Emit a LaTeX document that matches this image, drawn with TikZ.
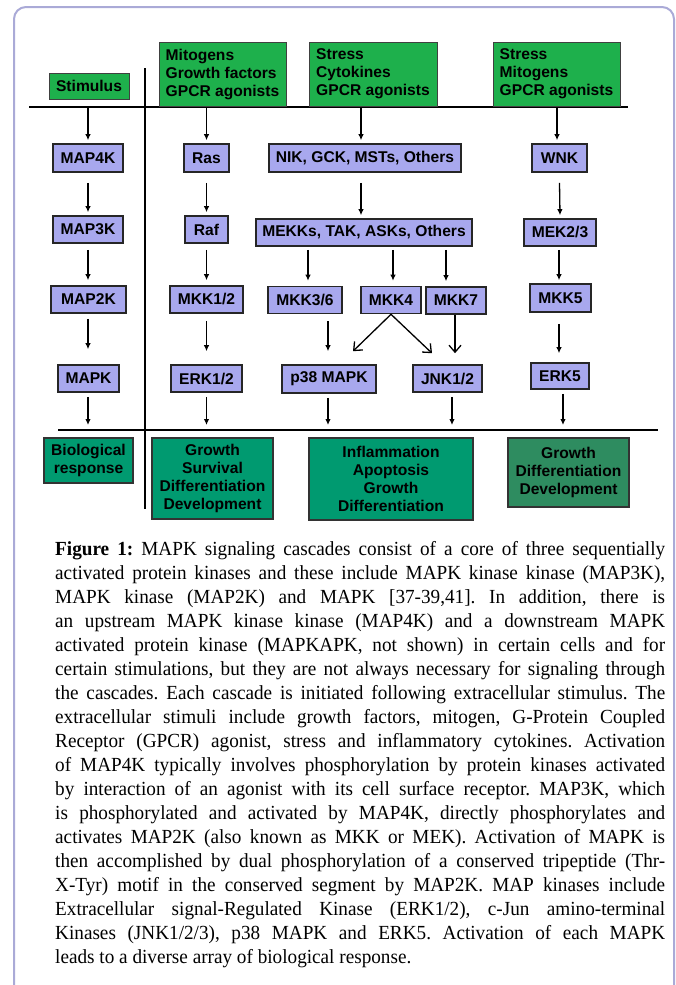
\documentclass[tikz,border=0pt]{standalone}
\usepackage{fontspec}
\setmainfont{Liberation Serif}
\newfontfamily\diagfont{Liberation Sans}
\newfontfamily\capfont{Liberation Serif}[FakeStretch=0.96]
\usetikzlibrary{arrows.meta}
\definecolor{frameC}{RGB}{170,170,215}
\definecolor{kinC}{RGB}{168,168,238}
\definecolor{stimC}{RGB}{30,176,76}
\definecolor{respC}{RGB}{0,154,112}
\definecolor{respD}{RGB}{46,140,96}
\begin{document}
\begin{tikzpicture}[x=1pt,y=-1pt,
  dfont/.style={font=\diagfont\bfseries\fontsize{15.6pt}{18pt}\selectfont},
  sz/.style 2 args={minimum width=#1pt,minimum height=#2pt},
  kin/.style={dfont,draw=black!85,line width=1.6pt,fill=kinC,inner sep=0pt},
  stimbox/.style={dfont,draw=black!75,line width=1pt,fill=stimC,inner sep=0pt,align=left},
  resp/.style={dfont,draw=black!80,line width=1.3pt,fill=respC,inner sep=0pt,align=center},
  respdark/.style={resp,fill=respD},
  arr/.style={-{Latex[length=6pt,width=5.5pt]},line width=1.3pt},
  arro/.style={-{Straight Barb[length=7pt,width=12pt]},line width=1.3pt},
  sep/.style={line width=1.5pt}]
\useasboundingbox (0,0) rectangle (676,985);
% frame
\draw[frameC,line width=2pt,rounded corners=12pt] (14,985) -- (14,7) -- (674,7) -- (674,985);
% separator lines
\coordinate (tl1) at (29,107);  \coordinate (tl2) at (628,107);
\coordinate (vl1) at (145,68);  \coordinate (vl2) at (145,509);
\coordinate (bl1) at (58,430);  \coordinate (bl2) at (658,430);
\draw[sep] (tl1) -- (tl2);
\draw[sep] (vl1) -- (vl2);
\draw[sep] (bl1) -- (bl2);
% stimulus boxes
\node[stimbox,sz={80}{26},align=center] (stim) at (89,86) {Stimulus};
\node[stimbox,sz={127}{64}] (mito) at (222.5,74) {Mitogens\\Growth factors\\GPCR agonists};
\node[stimbox,sz={128}{64}] (str1) at (373,74) {Stress\\Cytokines\\GPCR agonists};
\node[stimbox,sz={127}{64}] (str2) at (556.5,74) {Stress\\Mitogens\\GPCR agonists};
% kinase boxes
\node[kin,sz={70}{28}] (map4k) at (88,158) {MAP4K};
\node[kin,sz={70}{27}] (map3k) at (88,229.5) {MAP3K};
\node[kin,sz={75}{27}] (map2k) at (88.5,299.5) {MAP2K};
\node[kin,sz={61}{27}] (mapk) at (88.5,378.5) {MAPK};
\node[kin,sz={45}{28}] (ras) at (206.5,158) {Ras};
\node[kin,sz={43}{27}] (raf) at (206.5,229.5) {Raf};
\node[kin,sz={73}{27}] (mkk12) at (206.5,299.5) {MKK1/2};
\node[kin,sz={71}{27}] (erk12) at (206.5,378.5) {ERK1/2};
\node[kin,sz={192}{28}] (nik) at (365,158) {NIK, GCK, MSTs, Others};
\node[kin,sz={216}{27}] (mekks) at (364,232.5) {MEKKs, TAK, ASKs, Others};
\node[kin,sz={74}{27}] (mkk36) at (305,300) {MKK3/6};
\node[kin,sz={60}{27}] (mkk4) at (391,300) {MKK4};
\node[kin,sz={60}{27}] (mkk7) at (456,300.5) {MKK7};
\node[kin,sz={94}{28}] (p38) at (329,379) {p38 MAPK};
\node[kin,sz={69}{27}] (jnk) at (447.5,378.5) {JNK1/2};
\node[kin,sz={55}{28}] (wnk) at (559.5,158) {WNK};
\node[kin,sz={72}{27}] (mek23) at (560,232.5) {MEK2/3};
\node[kin,sz={61}{28}] (mkk5) at (560.5,298) {MKK5};
\node[kin,sz={58}{26}] (erk5) at (560,376) {ERK5};
% response boxes
\node[resp,sz={89}{45}] (bio) at (88.5,460.5) {Biological\\response};
\node[resp,sz={121}{81}] (gr1) at (212.5,478.5) {Growth\\Survival\\Differentiation\\Development};
\node[resp,sz={164}{82}] (infl) at (391,479) {Inflammation\\Apoptosis\\Growth\\Differentiation};
\node[respdark,sz={121}{69}] (gr2) at (568.5,472.5) {Growth\\Differentiation\\Development};
% arrows from stimulus line
\coordinate (t1) at (88,107);
\coordinate (t2) at (206.5,107);
\coordinate (t3) at (361,107);
\coordinate (t4) at (557,107);
\draw[arr] (t1) -- ([yshift=3pt]map4k.north);
\draw[arr] (t2) -- ([yshift=3pt]ras.north);
\draw[arr] (t3) -- ([xshift=-4pt,yshift=3pt]nik.north);
\draw[arr] (t4) -- ([xshift=-2.5pt,yshift=3pt]wnk.north);
% generic cascade
\draw[arr] ([yshift=-10pt]map4k.south) -- ([yshift=3pt]map3k.north);
\draw[arr] ([yshift=-6pt]map3k.south) -- ([xshift=-0.5pt,yshift=5pt]map2k.north);
\draw[arr] ([xshift=-0.5pt,yshift=-5pt]map2k.south) -- ([xshift=-0.5pt,yshift=15pt]mapk.north);
% ERK1/2 cascade
\draw[arr] ([yshift=-10pt]ras.south) -- ([yshift=3pt]raf.north);
\draw[arr] ([yshift=-6pt]raf.south) -- ([yshift=5pt]mkk12.north);
\draw[arr] ([yshift=-7pt]mkk12.south) -- ([yshift=13pt]erk12.north);
% p38 / JNK cascade
\draw[arr] ([xshift=-4pt,yshift=-10pt]nik.south) -- ([xshift=-3pt,yshift=3pt]mekks.north);
\draw[arr] ([xshift=-56pt,yshift=-3pt]mekks.south) -- ([xshift=3pt,yshift=5pt]mkk36.north);
\draw[arr] ([xshift=29pt,yshift=-3pt]mekks.south) -- ([xshift=2pt,yshift=5pt]mkk4.north);
\draw[arr] ([xshift=82pt,yshift=-3pt]mekks.south) -- ([xshift=-10pt,yshift=5pt]mkk7.north);
\draw[arr] ([xshift=23pt,yshift=-7pt]mkk36.south) -- ([xshift=-1pt,yshift=13pt]p38.north);
\draw[arro] (mkk4.south) -- ([xshift=24pt,yshift=13pt]p38.north);
\draw[arro] (mkk4.south) -- ([xshift=-15.5pt,yshift=11pt]jnk.north);
\draw[arro] ([xshift=-1pt]mkk7.south) -- ([xshift=7.5pt,yshift=11pt]jnk.north);
% ERK5 cascade
\draw[arr] ([yshift=-10pt]wnk.south) -- ([yshift=3pt]mek23.north);
\draw[arr] ([xshift=-1pt,yshift=-3pt]mek23.south) -- ([xshift=-1.5pt,yshift=3pt]mkk5.north);
\draw[arr] ([xshift=-1.5pt,yshift=-11pt]mkk5.south) -- ([xshift=-1pt,yshift=9pt]erk5.north);
% arrows to response line
\coordinate (b1) at (88,425);
\coordinate (b2) at (206.5,425);
\coordinate (b3) at (328,425);
\coordinate (b4) at (452,425);
\coordinate (b5) at (563,425);
\draw[arr] ([xshift=-0.5pt,yshift=-4pt]mapk.south) -- (b1);
\draw[arr] ([yshift=-4pt]erk12.south) -- (b2);
\draw[arr] ([xshift=-1pt,yshift=-4pt]p38.south) -- (b3);
\draw[arr] ([xshift=4.5pt,yshift=-4pt]jnk.south) -- (b4);
\draw[arr] ([xshift=3pt,yshift=-4pt]erk5.south) -- (b5);
% caption
\node[anchor=base west,inner sep=0pt] (cap) at (55,555) {\capfont\frenchspacing\fontsize{20pt}{24pt}\selectfont\parbox[t]{610pt}{%
\hbox to 610pt{{\bfseries Figure 1:} MAPK signaling cascades consist of a core of three sequentially}
\hbox to 610pt{activated protein kinases and these include MAPK kinase kinase (MAP3K),}
\hbox to 610pt{MAPK kinase (MAP2K) and MAPK [37-39,41]. In addition, there is}
\hbox to 610pt{an upstream MAPK kinase kinase (MAP4K) and a downstream MAPK}
\hbox to 610pt{activated protein kinase (MAPKAPK, not shown) in certain cells and for}
\hbox to 610pt{certain stimulations, but they are not always necessary for signaling through}
\hbox to 610pt{the cascades. Each cascade is initiated following extracellular stimulus. The}
\hbox to 610pt{extracellular stimuli include growth factors, mitogen, G-Protein Coupled}
\hbox to 610pt{Receptor (GPCR) agonist, stress and inflammatory cytokines. Activation}
\hbox to 610pt{of MAP4K typically involves phosphorylation by protein kinases activated}
\hbox to 610pt{by interaction of an agonist with its cell surface receptor. MAP3K, which}
\hbox to 610pt{is phosphorylated and activated by MAP4K, directly phosphorylates and}
\hbox to 610pt{activates MAP2K (also known as MKK or MEK). Activation of MAPK is}
\hbox to 610pt{then accomplished by dual phosphorylation of a conserved tripeptide (Thr-}
\hbox to 610pt{X-Tyr) motif in the conserved segment by MAP2K. MAP kinases include}
\hbox to 610pt{Extracellular signal-Regulated Kinase (ERK1/2), c-Jun amino-terminal}
\hbox to 610pt{Kinases (JNK1/2/3), p38 MAPK and ERK5. Activation of each MAPK}
\hbox{leads to a diverse array of biological response.}}};
\end{tikzpicture}
\end{document}
